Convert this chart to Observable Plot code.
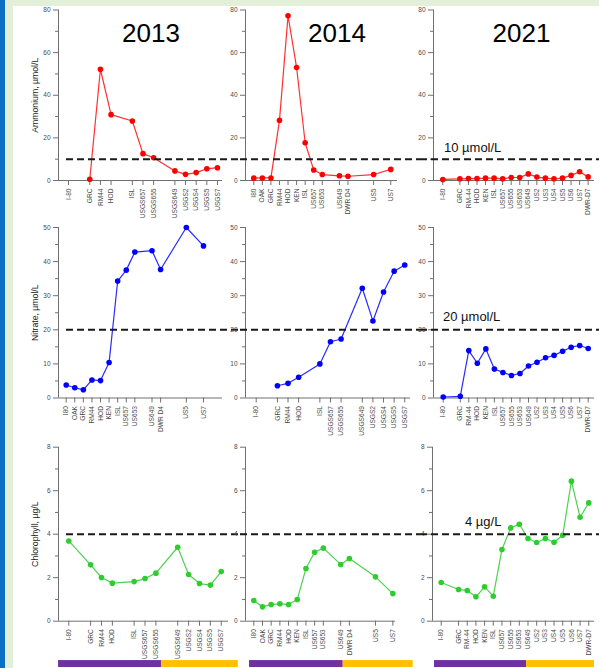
<!DOCTYPE html>
<html><head><meta charset="utf-8">
<script src="https://cdn.jsdelivr.net/npm/d3@7"></script>
<script src="https://cdn.jsdelivr.net/npm/@observablehq/plot@0.6"></script>
<style>
html,body{margin:0;padding:0;}
body{width:599px;height:668px;background:#e2efd9;position:relative;overflow:hidden;font-family:"Liberation Sans",Arial,sans-serif;}
#stripe{position:absolute;left:0;top:0;width:5px;height:668px;background:#0b70c4;}
#panel{position:absolute;left:13px;top:6px;width:586px;height:662px;background:#fff;}
.cell{position:absolute;}
#overlay{position:absolute;left:0;top:0;pointer-events:none;}
</style></head><body>
<div id="stripe"></div><div id="panel"></div>
<script>
// ---------- data ----------
const stationsA = ["I-80","GRC","RM44","HOD","ISL","USGS657","USGS655","USGS649","USGS2","USGS4","USGS5","USGS7"];
const slotsA = [0,2,3,4,6,7,8,10,11,12,13,14];
const stationsB = ["I80","OAK","GRC","RM44","HOD","KEN","ISL","US657","US653","US649","DWR D4","US5","US7"];
const slotsB = [0,1,2,3,4,5,6,7,8,10,11,14,16];
const stationsC = ["I-80","GRC","RM-44","HOD","KEN","ISL","US657","US655","US653","US649","US2","US3","US4","US5","US6","US7","DWR-D7"];
const slotsC = [0,2,3,4,5,6,7,8,9,10,11,12,13,14,15,16,17];

const years = ["2013","2014","2021"];
const ammonium2013 = [null,0.6,52.2,30.9,27.9,12.6,10.7,4.5,2.9,3.7,5.5,6.0];
const ammonium2014 = [1.1,1.2,1.2,28.2,77.3,53.0,17.7,4.9,2.8,2.2,2.0,2.8,5.2];
const ammonium2021 = [0.5,0.8,0.9,0.9,1.1,1.1,0.8,1.4,1.4,3.1,1.6,1.1,0.8,1.1,2.4,4.1,1.7];
const nitrate2013 = [3.8,3.0,2.4,5.3,5.1,10.4,34.3,37.5,42.8,43.2,37.7,50.0,44.6];
const nitrate2014 = [null,3.6,4.3,6.1,10.0,16.5,17.3,32.2,22.6,31.1,37.2,39.0];
const nitrate2021 = [0.3,0.5,13.9,10.2,14.4,8.5,7.5,6.6,7.2,9.4,10.5,11.8,12.5,13.7,14.9,15.4,14.5];
const chlorophyll2013 = [3.69,2.59,2.01,1.75,1.82,1.96,2.21,3.40,2.15,1.73,1.66,2.28];
const chlorophyll2014 = [0.95,0.66,0.77,0.80,0.77,1.00,2.42,3.17,3.36,2.61,2.88,2.04,1.27];
const chlorophyll2021 = [1.78,1.46,1.41,1.12,1.58,1.15,3.30,4.29,4.46,3.80,3.62,3.80,3.63,3.95,6.44,4.78,5.44];

const variables = ["Ammonium, µmol/L","Nitrate, µmol/L","Chlorophyll, µg/L"];
const yMax = [80,50,8];
const majorStep = [20,10,2];
const minorStep = [10,5,1];
const thresholds = [10,20,4];
const thresholdLabels = ["10 µmol/L","20 µmol/L","4 µg/L"];
const seriesColors = ["#ff0000","#0000ff","#2fcc2f"];
const lineColors = ["#ff3030","#2a2aff","#4cd24c"];

// reach bars under the chlorophyll panels (station-slot units)
const zoneColors = ["#7030a0","#ffc000"];
const zoneFrom = [[-0.94,8.51],[-0.49,10.29],[-0.77,9.83]];
const zoneTo = [[8.51,15.56],[10.29,18.34],[9.83,17.66]];
const zoneBand = [-1.81,-2.13];

// ---------- layout ----------
const cols = [{left:13,width:227},{left:240,width:180},{left:420,width:179}];
const rows = [
  {top:0,height:215,yTop:9.5,yZero:180},
  {top:215,height:215,yTop:227,yZero:397.5},
  {top:430,height:238,yTop:446.7,yZero:620.7}
];
// [axis x, first station x, station step, axis end]
const frames = [
  [[58,68,10.64,222],[245,253.3,8.56,397],[433,442.3,8.55,594]],
  [[58,65.7,8.58,222],[245,255.7,10.61,410],[433,442.7,8.53,594]],
  [[58,68.3,10.89,228],[245,253.3,8.69,395],[432,440.7,8.68,594]]
];
const stationSets = [
  [[stationsA,slotsA],[stationsB,slotsB],[stationsC,slotsC]],
  [[stationsB,slotsB],[stationsA,slotsA],[stationsC,slotsC]],
  [[stationsA,slotsA],[stationsB,slotsB],[stationsC,slotsC]]
];
const values = [
  [ammonium2013,ammonium2014,ammonium2021],
  [nitrate2013,nitrate2014,nitrate2021],
  [chlorophyll2013,chlorophyll2014,chlorophyll2021]
];

const font = "'Liberation Sans', Arial, sans-serif";

for (let r = 0; r < 3; r++) {
  for (let c = 0; c < 3; c++) {
    const col = cols[c], row = rows[r];
    const [xa, p0, w, xe] = frames[r][c];
    const [names, slots] = stationSets[r][c];
    const vals = values[r][c];
    const data = names.map((n, i) => ({name: n, slot: slots[i], v: vals[i]})).filter(d => d.v != null);
    const marginLeft = xa - col.left;
    const marginRight = col.left + col.width - xe;
    const marginTop = row.yTop - row.top;
    const marginBottom = row.top + row.height - row.yZero;
    const major = d3.range(0, yMax[r] + 1e-9, majorStep[r]);
    const minor = d3.range(minorStep[r], yMax[r], majorStep[r]);

    const marks = [
      Plot.ruleY([0], {stroke: "#707070", strokeWidth: 1}),
      Plot.ruleX([(xa - p0) / w], {stroke: "#707070", strokeWidth: 1}),
      Plot.axisY({ticks: major, tickSize: 5, tickPadding: 3, fontSize: 6.5, fill: "#4a4a4a", stroke: "#707070", label: null}),
      Plot.axisY({ticks: minor, tickSize: 3, tickFormat: () => "", stroke: "#707070", label: null}),
      Plot.axisX({ticks: slots, tickFormat: d => names[slots.indexOf(d)], tickRotate: -90, tickSize: 5, tickPadding: 3, fontSize: 6.6, fill: "#4a4a4a", stroke: "#707070", label: null}),
      Plot.line(data, {x: "slot", y: "v", stroke: lineColors[r], strokeWidth: 1.2}),
      Plot.dot(data, {x: "slot", y: "v", r: 2.8, fill: seriesColors[r], stroke: "none"}),
      Plot.ruleY([thresholds[r]], {
        stroke: "#1a1a1a", strokeWidth: 2, strokeDasharray: "7,4",
        insetLeft: c === 0 ? 8 : -marginLeft, insetRight: -marginRight
      })
    ];
    if (c === 0) {
      marks.push(Plot.text([variables[r]], {text: d => d, frameAnchor: "left", textAnchor: "middle", lineAnchor: "middle", rotate: -90, dx: -23, fontSize: 8.7, fill: "#222"}));
    }
    if (r === 2) {
      const zones = zoneColors.map((z, i) => ({color: z, from: zoneFrom[c][i], to: zoneTo[c][i]}));
      marks.push(Plot.rect(zones, {x1: "from", x2: "to", y1: zoneBand[0], y2: zoneBand[1], fill: "color"}));
    }

    const svg = Plot.plot({
      width: col.width,
      height: row.height,
      marginLeft, marginRight, marginTop, marginBottom,
      x: {type: "linear", domain: [(xa - p0) / w, (xe - p0) / w]},
      y: {domain: [0, yMax[r]]},
      style: {fontFamily: font, background: "transparent", overflow: "visible"},
      marks
    });
    const div = document.createElement("div");
    div.className = "cell";
    div.style.left = col.left + "px";
    div.style.top = row.top + "px";
    div.style.width = col.width + "px";
    div.style.height = row.height + "px";
    div.appendChild(svg);
    document.body.appendChild(div);
  }
}

// ---------- titles & threshold labels ----------
const overlay = d3.select("body").append("svg").attr("id", "overlay").attr("width", 599).attr("height", 668);
const titleX = [151, 337, 521.5];
overlay.selectAll("text.year").data(years).join("text")
  .attr("class", "year")
  .attr("x", (d, i) => titleX[i]).attr("y", 42)
  .attr("text-anchor", "middle")
  .attr("font-family", font).attr("font-size", 26).attr("fill", "#000")
  .text(d => d);
const labelPos = [[444, 152], [443, 321], [465, 526]];
overlay.selectAll("text.thr").data(thresholdLabels).join("text")
  .attr("class", "thr")
  .attr("x", (d, i) => labelPos[i][0]).attr("y", (d, i) => labelPos[i][1])
  .attr("font-family", font).attr("font-size", 13).attr("fill", "#111")
  .text(d => d);
</script>
</body></html>
